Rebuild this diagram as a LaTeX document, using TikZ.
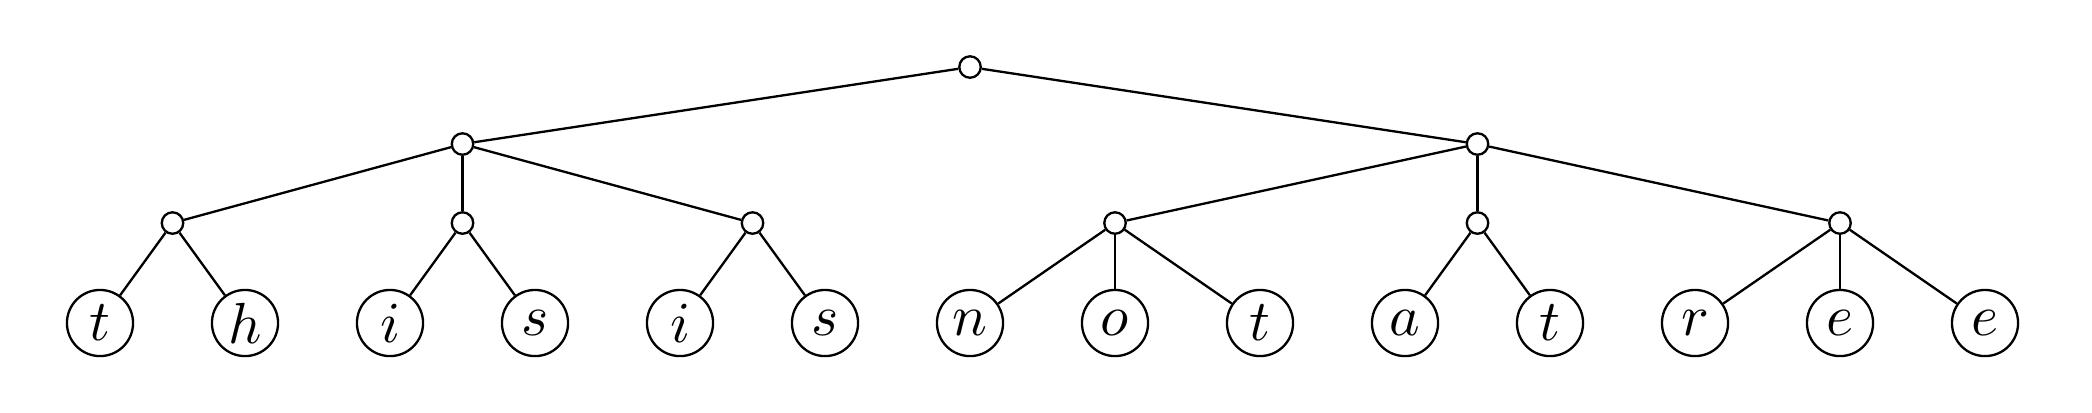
\documentclass[tikz,border=0pt]{standalone}
\begin{document}
\begin{tikzpicture}[x=0.17241pt,y=-0.17241pt,
  leaf/.style={draw,circle,minimum size=11.4pt,inner sep=0pt,line width=0.4pt},
  inner/.style={draw,circle,fill=white,minimum size=3.7pt,inner sep=0pt,line width=0.4pt},
  edge/.style={line width=0.4pt}]
\useasboundingbox (0,0) rectangle (2092,412);
\node[inner] (r) at (970,67) {};
\node[inner] (a) at (462.5,144) {};
\node[inner] (b) at (1477.5,144) {};
\node[inner] (a1) at (172.5,223) {};
\node[inner] (a2) at (462.5,223) {};
\node[inner] (a3) at (752.5,223) {};
\node[inner] (b1) at (1115,223) {};
\node[inner] (b2) at (1477.5,223) {};
\node[inner] (b3) at (1840,223) {};
\node[leaf] (l1) at (100,323) {$t$};
\node[leaf] (l2) at (245,323) {$h$};
\node[leaf] (l3) at (390,323) {$i$};
\node[leaf] (l4) at (535,323) {$s$};
\node[leaf] (l5) at (680,323) {$i$};
\node[leaf] (l6) at (825,323) {$s$};
\node[leaf] (l7) at (970,323) {$n$};
\node[leaf] (l8) at (1115,323) {$o$};
\node[leaf] (l9) at (1260,323) {$t$};
\node[leaf] (l10) at (1405,323) {$a$};
\node[leaf] (l11) at (1550,323) {$t$};
\node[leaf] (l12) at (1695,323) {$r$};
\node[leaf] (l13) at (1840,323) {$e$};
\node[leaf] (l14) at (1985,323) {$e$};
\draw[edge] (r) -- (a); \draw[edge] (r) -- (b);
\draw[edge] (a) -- (a1); \draw[edge] (a) -- (a2); \draw[edge] (a) -- (a3);
\draw[edge] (b) -- (b1); \draw[edge] (b) -- (b2); \draw[edge] (b) -- (b3);
\draw[edge] (a1) -- (l1); \draw[edge] (a1) -- (l2);
\draw[edge] (a2) -- (l3); \draw[edge] (a2) -- (l4);
\draw[edge] (a3) -- (l5); \draw[edge] (a3) -- (l6);
\draw[edge] (b1) -- (l7); \draw[edge] (b1) -- (l8); \draw[edge] (b1) -- (l9);
\draw[edge] (b2) -- (l10); \draw[edge] (b2) -- (l11);
\draw[edge] (b3) -- (l12); \draw[edge] (b3) -- (l13); \draw[edge] (b3) -- (l14);
\end{tikzpicture}
\end{document}
